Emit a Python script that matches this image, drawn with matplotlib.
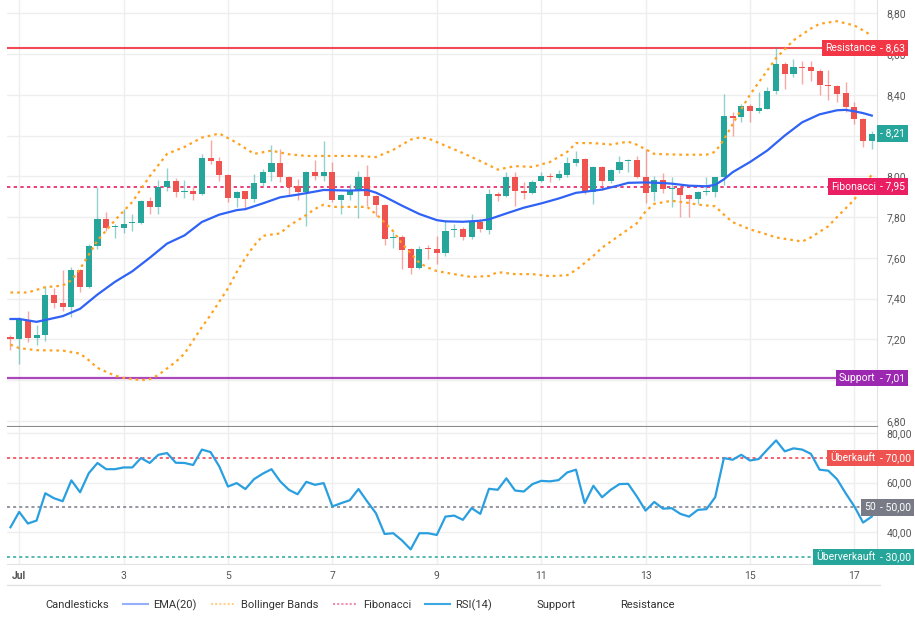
import numpy as np
import pandas as pd
import matplotlib
matplotlib.use('Agg')
import matplotlib.pyplot as plt
from matplotlib.lines import Line2D
from matplotlib.transforms import blended_transform_factory

plt.rcParams['font.family'] = ['Roboto', 'DejaVu Sans']

# 4h candles, Jun 30 20:00 -> Jul 17 08:00
times = pd.date_range('2024-06-30 20:00', periods=100, freq='4h')

opens = [7.21, 7.20, 7.295, 7.205, 7.22, 7.418, 7.38, 7.357, 7.54, 7.456,
         7.66, 7.79, 7.75, 7.748, 7.77, 7.77, 7.877, 7.85, 7.948, 7.977,
         7.925, 7.926, 7.915, 8.092, 8.077, 8.008, 7.892, 7.926, 7.889, 7.966,
         8.02, 8.064, 7.998, 7.954, 7.921, 8.023, 8.0, 8.023, 7.884, 7.91,
         7.93, 7.998, 7.905, 7.86, 7.698, 7.703, 7.643, 7.552, 7.648, 7.643,
         7.623, 7.737, 7.742, 7.704, 7.777, 7.737, 7.912, 7.904, 7.997, 7.927,
         7.919, 7.976, 8.0, 7.99, 8.005, 8.065, 8.083, 7.924, 8.046, 7.976,
         8.03, 8.073, 8.078, 7.997, 7.923, 7.98, 7.936, 7.941, 7.91, 7.89,
         7.924, 7.923, 7.996, 8.298, 8.29, 8.347, 8.319, 8.331, 8.42, 8.551,
         8.502, 8.538, 8.535, 8.518, 8.45, 8.445, 8.408, 8.342, 8.279, 8.171]
highs = [7.22, 7.31, 7.34, 7.27, 7.46, 7.45, 7.54, 7.554, 7.546, 7.67,
         7.948, 7.825, 7.767, 7.84, 7.813, 7.885, 7.898, 7.98, 8.043, 7.993,
         7.98, 7.948, 8.108, 8.18, 8.095, 8.01, 7.93, 7.93, 8.01, 8.036,
         8.154, 8.134, 8.0, 7.987, 8.028, 8.08, 8.172, 8.072, 7.915, 7.962,
         8.025, 8.056, 7.91, 7.865, 7.728, 7.71, 7.65, 7.659, 7.664, 7.708,
         7.782, 7.764, 7.75, 7.815, 7.79, 7.94, 7.925, 8.02, 8.02, 7.972,
         7.98, 8.02, 8.018, 8.033, 8.094, 8.124, 8.09, 8.05, 8.052, 8.038,
         8.10, 8.086, 8.10, 8.135, 8.0, 8.016, 7.996, 7.945, 7.915, 7.93,
         7.996, 7.996, 8.404, 8.315, 8.355, 8.355, 8.412, 8.437, 8.633, 8.56,
         8.576, 8.564, 8.567, 8.525, 8.522, 8.45, 8.461, 8.363, 8.285, 8.22]
lows = [7.15, 7.08, 7.185, 7.17, 7.19, 7.355, 7.34, 7.31, 7.43, 7.45,
        7.644, 7.73, 7.697, 7.723, 7.73, 7.764, 7.813, 7.816, 7.93, 7.898,
        7.895, 7.882, 7.91, 8.06, 7.975, 7.872, 7.848, 7.84, 7.872, 7.954,
        7.975, 7.97, 7.905, 7.885, 7.757, 7.982, 7.975, 7.872, 7.815, 7.885,
        7.795, 7.856, 7.807, 7.664, 7.648, 7.544, 7.523, 7.544, 7.593, 7.572,
        7.61, 7.70, 7.688, 7.69, 7.728, 7.717, 7.878, 7.90, 7.854, 7.89,
        7.915, 7.97, 7.972, 7.98, 7.997, 8.05, 7.912, 7.863, 7.932, 7.965,
        8.016, 8.02, 7.99, 7.87, 7.877, 7.918, 7.85, 7.80, 7.80, 7.866,
        7.91, 7.90, 7.956, 8.20, 8.266, 8.266, 8.31, 8.33, 8.404, 8.429,
        8.486, 8.453, 8.47, 8.40, 8.372, 8.363, 8.315, 8.257, 8.143, 8.135]
closes = [7.20, 7.295, 7.205, 7.22, 7.418, 7.38, 7.357, 7.54, 7.456, 7.657,
          7.79, 7.748, 7.754, 7.767, 7.772, 7.877, 7.85, 7.948, 7.977, 7.923,
          7.93, 7.915, 8.092, 8.075, 8.005, 7.892, 7.925, 7.889, 7.966, 8.02,
          8.064, 7.995, 7.95, 7.921, 8.023, 8.0, 8.023, 7.884, 7.91, 7.93,
          7.998, 7.905, 7.86, 7.692, 7.703, 7.638, 7.552, 7.643, 7.643, 7.623,
          7.73, 7.742, 7.704, 7.777, 7.74, 7.912, 7.904, 7.997, 7.927, 7.919,
          7.972, 8.0, 7.996, 8.01, 8.065, 8.083, 7.924, 8.046, 7.976, 8.033,
          8.07, 8.078, 7.997, 7.92, 7.98, 7.936, 7.941, 7.907, 7.89, 7.923,
          7.93, 7.996, 8.298, 8.287, 8.347, 8.318, 8.334, 8.42, 8.551, 8.502,
          8.538, 8.53, 8.515, 8.448, 8.442, 8.404, 8.342, 8.279, 8.171, 8.21]

rsi = [42.0, 48.2, 43.5, 44.7, 55.7, 53.7, 52.5, 60.9, 56.1, 63.8,
       67.9, 65.4, 65.4, 66.1, 66.1, 69.9, 67.9, 71.2, 71.9, 68.0,
       67.9, 67.1, 73.3, 72.3, 66.5, 58.4, 59.8, 57.4, 61.4, 63.6,
       65.4, 60.5, 57.1, 55.3, 60.3, 59.1, 59.8, 50.4, 51.7, 52.9,
       57.4, 52.4, 47.7, 39.3, 39.6, 36.7, 33.1, 39.6, 39.6, 38.9,
       46.3, 46.7, 45.0, 49.7, 47.4, 57.5, 57.1, 61.7, 56.8, 56.4,
       59.4, 60.7, 60.5, 61.0, 64.1, 65.2, 51.7, 58.7, 54.1, 57.1,
       59.4, 59.5, 54.4, 48.7, 52.2, 49.5, 49.7, 47.4, 46.3, 49.0,
       49.3, 54.1, 69.9, 69.2, 71.2, 68.9, 69.5, 73.3, 77.0, 72.6,
       73.8, 73.3, 71.6, 65.2, 64.8, 61.4, 55.7, 50.4, 43.9, 46.3]

# indicator lines read at selected candles
ema_idx = [0, 1, 3, 4, 6, 8, 10, 12, 14, 16, 18, 20, 22, 24, 26, 27, 29, 31,
           33, 35, 36, 39, 41, 42, 43, 45, 47, 49, 50, 52, 54, 55, 57, 59, 61,
           63, 65, 66, 68, 70, 71, 73, 75, 76, 78, 80, 81, 82, 83, 85, 87, 89,
           91, 93, 95, 96, 97, 98, 99]
ema_val = [7.30, 7.30, 7.286, 7.295, 7.314, 7.35, 7.42, 7.482, 7.534, 7.60,
           7.67, 7.71, 7.776, 7.812, 7.834, 7.839, 7.867, 7.897, 7.91, 7.925,
           7.933, 7.93, 7.933, 7.92, 7.90, 7.856, 7.815, 7.785, 7.779, 7.777,
           7.782, 7.789, 7.818, 7.846, 7.867, 7.891, 7.919, 7.924, 7.935, 7.956,
           7.968, 7.97, 7.967, 7.964, 7.954, 7.951, 7.958, 7.985, 8.02, 8.07,
           8.127, 8.20, 8.265, 8.304, 8.324, 8.326, 8.319, 8.31, 8.298]

bb_up_idx = [0, 2, 4, 6, 7, 8, 10, 12, 14, 16, 18, 20, 22, 24, 26, 28, 30, 32,
             34, 36, 38, 40, 42, 44, 46, 47, 48, 50, 52, 54, 56, 58, 60, 62,
             64, 65, 67, 69, 71, 72, 74, 77, 80, 81, 82, 84, 85, 87, 88, 90,
             92, 93, 95, 97, 98, 99]
bb_up_val = [7.43, 7.43, 7.456, 7.464, 7.49, 7.546, 7.685, 7.784, 7.874, 8.0,
             8.11, 8.144, 8.19, 8.21, 8.165, 8.11, 8.126, 8.108, 8.10, 8.10,
             8.10, 8.10, 8.094, 8.13, 8.18, 8.19, 8.186, 8.15, 8.114, 8.075,
             8.033, 8.05, 8.046, 8.07, 8.12, 8.163, 8.163, 8.156, 8.17, 8.155,
             8.11, 8.106, 8.106, 8.12, 8.18, 8.33, 8.40, 8.52, 8.58, 8.667,
             8.725, 8.748, 8.761, 8.74, 8.716, 8.69]

bb_lo_idx = [0, 1, 3, 6, 8, 9, 10, 12, 13, 15, 16, 17, 19, 20, 22, 23, 25, 26,
             27, 28, 29, 31, 32, 34, 35, 36, 37, 41, 42, 43, 44, 45, 47, 48, 49,
             51, 53, 55, 56, 58, 60, 62, 64, 65, 67, 68, 69, 71, 72, 73, 74, 76,
             78, 79, 81, 82, 83, 85, 87, 88, 91, 92, 94, 95, 97, 98, 99]
bb_lo_val = [7.174, 7.157, 7.147, 7.145, 7.13, 7.098, 7.06, 7.022, 7.011, 7.0,
             7.005, 7.025, 7.09, 7.13, 7.26, 7.32, 7.45, 7.53, 7.60, 7.66,
             7.708, 7.72, 7.757, 7.81, 7.84, 7.861, 7.85, 7.85, 7.815, 7.774,
             7.73, 7.67, 7.575, 7.552, 7.535, 7.52, 7.506, 7.511, 7.53, 7.52,
             7.52, 7.51, 7.515, 7.54, 7.61, 7.65, 7.68, 7.74, 7.77, 7.828,
             7.865, 7.88, 7.869, 7.861, 7.853, 7.812, 7.775, 7.74, 7.714, 7.70,
             7.68, 7.70, 7.755, 7.80, 7.886, 7.95, 8.008]

resistance = 8.63
fibonacci = 7.95
support = 7.01

UP = '#26a69a'
DOWN = '#ef5350'
EMA_C = '#2f62f5'
BB_C = '#ffa21f'
FIB_C = '#e91e63'
RES_C = '#f23645'
SUP_C = '#9c27b0'
RSI_C = '#2a9fe0'
GRID = '#eeeeee'
TXT = '#555555'


def fmt(v):
    return f'{v:.2f}'.replace('.', ',')


W, H = 915, 620
fig = plt.figure(figsize=(W / 100, H / 100), dpi=100)
ax = fig.add_axes([7 / W, 1 - 426 / H, 870 / W, 426 / H])
ax2 = fig.add_axes([7 / W, 1 - 564 / H, 870 / W, 137 / H], sharex=ax)

x = np.arange(len(times))
o, h, l, c = map(np.array, (opens, highs, lows, closes))
col = np.where(c >= o, UP, DOWN)

# candles
ax.vlines(x, l, h, colors=col, lw=1, alpha=0.5, zorder=2)
ax.bar(x, np.maximum(np.abs(c - o), 0.004), bottom=np.minimum(o, c),
       width=0.7, color=col, zorder=3)

ax.plot(ema_idx, ema_val, color=EMA_C, lw=1.6, zorder=4)
ax.plot(bb_up_idx, bb_up_val, color=BB_C, lw=1.6, ls=(0, (1.2, 1.8)), zorder=4)
ax.plot(bb_lo_idx, bb_lo_val, color=BB_C, lw=1.6, ls=(0, (1.2, 1.8)), zorder=4)

ax.axhline(resistance, color=RES_C, lw=1.5, alpha=0.9, zorder=1)
ax.axhline(fibonacci, color=FIB_C, lw=1.2, ls=(0, (2, 2)), zorder=1)
ax.axhline(support, color=SUP_C, lw=1.6, alpha=0.85, zorder=1)

# rsi
ax2.plot(x, rsi, color=RSI_C, lw=1.6, zorder=4)
ax2.axhline(70, color=RES_C, lw=1.1, ls=(0, (2, 2)))
ax2.axhline(50, color='#787b86', lw=1.1, ls=(0, (2, 2)))
ax2.axhline(30, color=UP, lw=1.1, ls=(0, (2, 2)))

ax.set_xlim(-0.4, 99.6)
ax.set_ylim(6.775, 8.865)
ax2.set_ylim(27.2, 82.4)

# axes styling
for a in (ax, ax2):
    a.yaxis.tick_right()
    a.grid(True, color=GRID, lw=1)
    a.set_axisbelow(True)
    a.tick_params(axis='y', length=0, pad=7, labelsize=7.5, labelcolor=TXT)
    a.tick_params(axis='x', length=0)
    for s in ('top', 'left'):
        a.spines[s].set_visible(False)
    a.spines['right'].set_color('#e3e3e3')

ax.spines['bottom'].set_color('#8a8a8a')
ax2.spines['bottom'].set_color('#e3e3e3')

# tick labels hidden behind the tags are left empty
yt = np.round(np.arange(6.8, 8.81, 0.2), 2)
ax.set_yticks(yt)
ax.set_yticklabels(['' if v in (7.0, 8.2) else fmt(v) for v in yt])
ax2.set_yticks([40, 60, 80])
ax2.set_yticklabels([fmt(v) for v in (40, 60, 80)])

tick_pos = [i for i, t in enumerate(times) if t.hour == 0 and t.day % 2 == 1]
tick_lab = ['Jul' if times[i].day == 1 else str(times[i].day) for i in tick_pos]
ax2.set_xticks(tick_pos)
ax2.set_xticklabels(tick_lab)
ax2.tick_params(axis='x', labelsize=7.5, labelcolor=TXT, pad=5)
ax2.get_xticklabels()[0].set_fontweight('bold')
plt.setp(ax.get_xticklabels(), visible=False)


def tag(a, y, name, color, value_txt):
    t = blended_transform_factory(a.transAxes, a.transData)
    box = dict(boxstyle='square,pad=0.3', fc=color, ec='none')
    if name:
        a.text(0.9985, y, name, transform=t, ha='right', va='center',
               color='white', fontsize=7.5, bbox=box, zorder=10, clip_on=False)
    a.text(1.0035, y, '- ' + value_txt, transform=t, ha='left', va='center',
           color='white', fontsize=7.5, bbox=box, zorder=10, clip_on=False)


tag(ax, resistance, 'Resistance', RES_C, fmt(resistance))
tag(ax, fibonacci, 'Fibonacci', FIB_C, fmt(fibonacci))
tag(ax, support, 'Support', SUP_C, fmt(support))
tag(ax, closes[-1], None, UP, fmt(closes[-1]))
tag(ax2, 70, 'Überkauft', DOWN, fmt(70))
tag(ax2, 50, '50', '#787b86', fmt(50))
tag(ax2, 30, 'Überverkauft', UP, fmt(30))

fig.add_artist(Line2D([7 / W, 880 / W], [1 - 585 / H] * 2, color='#e3e3e3', lw=1))

handles = [
    Line2D([], [], color='none'),
    Line2D([], [], color=EMA_C, lw=1.5, alpha=0.5),
    Line2D([], [], color=BB_C, lw=1.5, ls=(0, (1, 1)), alpha=0.5),
    Line2D([], [], color=FIB_C, lw=1.5, ls=(0, (1, 1)), alpha=0.5),
    Line2D([], [], color=RSI_C, lw=1.5, alpha=0.9),
    Line2D([], [], color='none'),
    Line2D([], [], color='none'),
]
labels = ['Candlesticks', 'EMA(20)', 'Bollinger Bands', 'Fibonacci', 'RSI(14)',
          'Support', 'Resistance']
leg = fig.legend(handles, labels, loc='center left',
                 bbox_to_anchor=(5 / W, 1 - 605 / H), ncol=7, frameon=False,
                 fontsize=8, handlelength=2.25, handletextpad=0.45,
                 columnspacing=1.3)
for t in leg.get_texts():
    t.set_color('#333333')

fig.savefig('out.png', dpi=100)
